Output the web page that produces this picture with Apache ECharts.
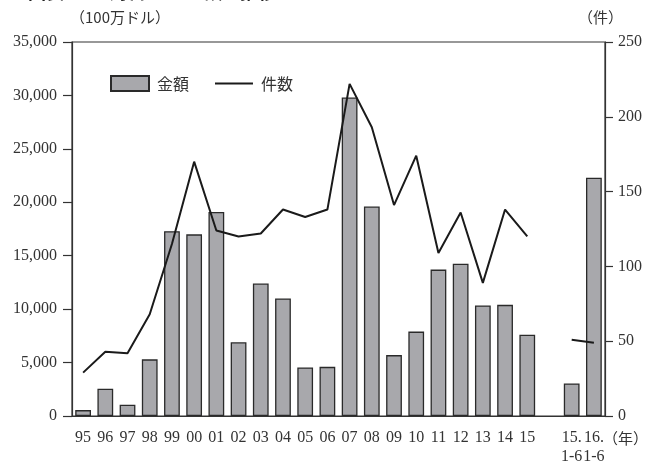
<!DOCTYPE html>
<html>
<head>
<meta charset="utf-8">
<script src="https://cdn.jsdelivr.net/npm/echarts@6/dist/echarts.min.js"></script>
<style>
    body {
        margin: 0px;
        background: #fff;
    }

    #charts {
        width: 647px;
        height: 466px;
    }
</style>
</head>
<body>
<div id="charts"></div>
<script>
// 横軸のカテゴリ（空欄はすき間）
const categories = ['95', '96', '97', '98', '99', '00', '01', '02', '03', '04', '05', '06', '07', '08', '09', '10', '11', '12', '13', '14', '15', '', '15.\n1-6', '16.\n1-6'];
// 金額（100万ドル）
const amounts = [550, 2550, 1050, 5300, 17300, 17000, 19100, 6900, 12400, 11000, 4550, 4600, 29800, 19600, 5700, 7900, 13700, 14250, 10350, 10400, 7600, null, 3050, 22300];
// 件数
const counts = [29, 43, 42, 68, 115, 170, 124, 120, 122, 138, 133, 138, 222, 193, 141, 174, 109, 136, 89, 138, 120, null, 51, 49];

const serif = '"Liberation Serif", "DejaVu Serif", serif';
const jp = '"Noto Sans CJK JP", sans-serif';

// 凡例の線（細い横線、上下に極小の点を置いて高さを保つ）
const lineIcon = 'path://M0,0 L0.01,0 L0.01,0.01 Z M0,15 L0.01,15 L0.01,15.01 Z M0,6.6 L38,6.6 L38,8.6 L0,8.6 Z';

const mycharts = echarts.init(document.getElementById('charts'));
mycharts.setOption({
    animation: false,
    textStyle: { fontFamily: serif },
    grid: {
        left: 72,
        right: 42,
        top: 42,
        bottom: 46,
        show: true,
        borderColor: '#333',
        borderWidth: 1.2
    },
    legend: {
        left: 105,
        top: 70,
        itemWidth: 38,
        itemHeight: 15,
        itemGap: 26,
        textStyle: { fontFamily: jp, fontSize: 16, color: '#333', padding: [0, 0, 0, 3] },
        data: [
            { name: '金額', icon: 'rect' },
            { name: '件数', icon: lineIcon }
        ]
    },
    graphic: [
        // 上で切れているタイトル
        { type: 'text', left: 28, top: -17, style: { text: '図表1-3　対日M&A金額の推移', font: 'bold 18px "Noto Sans CJK JP"', fill: '#222' } },
        { type: 'text', left: 70, top: 10, style: { text: '（100万ドル）', font: '15px "Noto Sans CJK JP"', fill: '#333' } },
        { type: 'text', left: 578, top: 10, style: { text: '（件）', font: '15px "Noto Sans CJK JP"', fill: '#333' } },
        { type: 'text', left: 603, top: 431, style: { text: '（年）', font: '15px "Noto Sans CJK JP"', fill: '#333' } }
    ],
    xAxis: {
        type: 'category',
        data: categories,
        axisLine: { lineStyle: { color: '#333', width: 1.2 } },
        axisTick: { length: 6, lineStyle: { color: '#333', width: 1.2 } },
        axisLabel: { color: '#333', fontSize: 16, margin: 12, lineHeight: 19, interval: 0 }
    },
    yAxis: [
        {
            type: 'value',
            min: 0,
            max: 35000,
            interval: 5000,
            axisLine: { show: true, lineStyle: { color: '#333', width: 1.2 } },
            axisTick: { show: true, length: 9, lineStyle: { color: '#333', width: 1.2 } },
            axisLabel: {
                color: '#333',
                fontSize: 16,
                margin: 15,
                formatter: v => v.toLocaleString('en-US')
            },
            splitLine: { show: false }
        },
        {
            type: 'value',
            min: 0,
            max: 250,
            interval: 50,
            axisLine: { show: true, lineStyle: { color: '#333', width: 1.2 } },
            axisTick: { show: true, length: 8, lineStyle: { color: '#333', width: 1.2 } },
            axisLabel: { color: '#333', fontSize: 16, margin: 13 },
            splitLine: { show: false }
        }
    ],
    series: [
        {
            name: '金額',
            type: 'bar',
            barWidth: '71%',
            data: amounts,
            itemStyle: { color: '#a8a8ac', borderColor: '#2a2a2a', borderWidth: 1.3 }
        },
        {
            name: '件数',
            type: 'line',
            yAxisIndex: 1,
            data: counts,
            symbol: 'none',
            connectNulls: false,
            lineStyle: { color: '#1a1a1a', width: 2 },
            itemStyle: { color: '#1a1a1a' }
        }
    ]
});
</script>
</body>
</html>
